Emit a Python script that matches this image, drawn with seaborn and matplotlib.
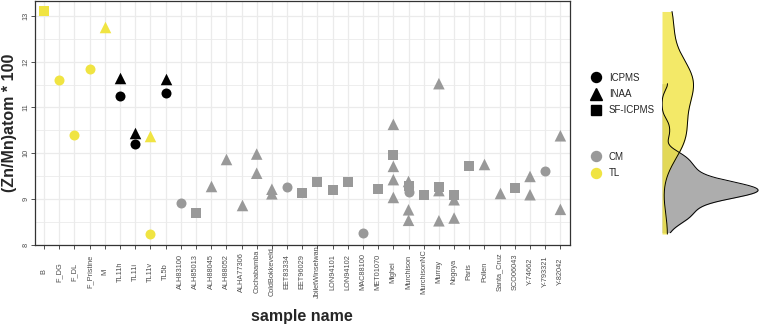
import numpy as np
import pandas as pd
import matplotlib
matplotlib.use("Agg")
import matplotlib.pyplot as plt
from matplotlib.lines import Line2D
import seaborn as sns

# -----------------------------
# Data
# -----------------------------
sample_names = ["B", "F_DG", "F_DL", "F_Pristine", "M", "TL11h", "TL11i", "TL11v", "TL5b",
                "ALH83100", "ALH85013", "ALH88045", "ALH88052", "ALHA77306", "Cochabamba",
                "ColdBokkeveld", "EET83334", "EET96029", "JbiletWinselwan", "LON94101",
                "LON94102", "MAC88100", "MET01070", "Mighei", "Murchison", "MurchisonNC",
                "Murray", "Nogoya", "Paris", "Pollen", "Santa_Cruz", "SCO06043",
                "Y-74662", "Y-793321", "Y-82042"]

pt_sample = ["B", "F_DG", "F_DL", "F_Pristine", "M",
             "TL11h", "TL11h", "TL11i", "TL11i", "TL11v", "TL11v", "TL5b", "TL5b",
             "ALH83100", "ALH85013", "ALH88045", "ALH88052", "ALHA77306",
             "Cochabamba", "Cochabamba", "ColdBokkeveld", "ColdBokkeveld",
             "EET83334", "EET96029", "JbiletWinselwan", "LON94101", "LON94102",
             "MAC88100", "MET01070",
             "Mighei", "Mighei", "Mighei", "Mighei", "Mighei",
             "Murchison", "Murchison", "Murchison", "Murchison", "Murchison",
             "MurchisonNC", "Murray", "Murray", "Murray", "Murray",
             "Nogoya", "Nogoya", "Nogoya", "Paris", "Pollen", "Santa_Cruz", "SCO06043",
             "Y-74662", "Y-74662", "Y-793321", "Y-82042", "Y-82042"]

pt_method = ["SF-ICPMS", "ICPMS", "ICPMS", "ICPMS", "INAA",
             "INAA", "ICPMS", "INAA", "ICPMS", "INAA", "ICPMS", "INAA", "ICPMS",
             "ICPMS", "SF-ICPMS", "INAA", "INAA", "INAA",
             "INAA", "INAA", "INAA", "INAA",
             "ICPMS", "SF-ICPMS", "SF-ICPMS", "SF-ICPMS", "SF-ICPMS",
             "ICPMS", "SF-ICPMS",
             "INAA", "SF-ICPMS", "INAA", "INAA", "INAA",
             "INAA", "SF-ICPMS", "ICPMS", "INAA", "INAA",
             "SF-ICPMS", "INAA", "SF-ICPMS", "INAA", "INAA",
             "SF-ICPMS", "INAA", "INAA", "SF-ICPMS", "INAA", "INAA", "SF-ICPMS",
             "INAA", "INAA", "ICPMS", "INAA", "INAA"]

# colour class: CM grey, TL yellow, TLb = TL samples drawn in black
pt_class = ["TL", "TL", "TL", "TL", "TL",
            "TLb", "TLb", "TLb", "TLb", "TL", "TL", "TLb", "TLb"] + ["CM"] * 43

pt_value = [13.10, 11.59, 10.40, 11.84, 12.75,
            11.65, 11.25, 10.44, 10.20, 10.38, 8.23, 11.63, 11.32,
            8.91, 8.70, 9.29, 9.88, 8.86,
            9.98, 9.56, 9.21, 9.11,
            9.25, 9.13, 9.37, 9.19, 9.36,
            8.26, 9.21,
            10.63, 9.97, 9.71, 9.42, 9.03,
            9.38, 9.28, 9.14, 8.76, 8.53,
            9.09, 11.52, 9.25, 9.18, 8.52,
            9.08, 8.98, 8.58, 9.71, 9.77, 9.13, 9.23,
            9.49, 9.09, 9.60, 10.38, 8.77]

df = pd.DataFrame({"sample": pt_sample, "method": pt_method,
                   "cls": pt_class, "value": pt_value})
df["group"] = df["cls"].replace({"TLb": "TL"})

palette = {"CM": "#999999", "TL": "#F0E442", "TLb": "#000000"}
markers = {"ICPMS": "o", "INAA": "^", "SF-ICPMS": "s"}
msizes = {"ICPMS": 7.2, "INAA": 8.3, "SF-ICPMS": 6.5}

# -----------------------------
# Figure
# -----------------------------
sns.set_theme(style="white")
plt.rcParams["font.family"] = ["Liberation Sans", "DejaVu Sans"]

fig = plt.figure(figsize=(7.6, 3.25), dpi=100)
ax = fig.add_axes([35 / 760, 80 / 325, 534.5 / 760, 244.5 / 325])
ax2 = fig.add_axes([662 / 760, 80 / 325, 98 / 760, 244.5 / 325])

for m in ["ICPMS", "INAA", "SF-ICPMS"]:
    sub = df[df["method"] == m]
    sns.stripplot(data=sub, x="sample", y="value", hue="cls", palette=palette,
                  order=sample_names, jitter=False, dodge=False, marker=markers[m],
                  size=msizes[m], linewidth=0, legend=False, ax=ax, zorder=3)

ax.set_xlim(-0.6, len(sample_names) - 0.4)
ax.set_ylim(7.99, 13.34)
ax.set_yticks([8, 9, 10, 11, 12, 13])
ax.set_yticks(np.arange(8.5, 13.0, 1.0), minor=True)
ax.set_xticks(range(len(sample_names)))
ax.set_xticklabels(sample_names, rotation=90, va="center")
ax.set_yticklabels(["8", "9", "10", "11", "12", "13"], rotation=90, va="center")

ax.grid(True, which="major", color="#EBEBEB", lw=0.9)
ax.grid(True, which="minor", axis="y", color="#EBEBEB", lw=0.6)
ax.set_axisbelow(True)
for s in ax.spines.values():
    s.set_color("#333333")
    s.set_linewidth(0.9)

ax.tick_params(axis="both", which="major", bottom=True, left=True, length=2.75,
               width=0.6, color="#333333", labelsize=5.3, labelcolor="#4D4D4D")
ax.tick_params(axis="x", pad=16.5)
ax.tick_params(axis="y", pad=1)
ax.tick_params(which="minor", left=False, bottom=False)

ax.set_xlabel("sample name", fontsize=11.5, fontweight="bold")
ax.xaxis.set_label_coords(0.5, -(308 - 244.5) / 244.5)
ax.set_ylabel("(Zn/Mn)atom * 100", fontsize=11.5, fontweight="bold", labelpad=4)

# -----------------------------
# Marginal density
# -----------------------------
dens_fill = {"CM": "#999999", "TL": "#F0E442"}
for g in ["CM", "TL"]:
    vals = df.loc[df["group"] == g, "value"].to_numpy()
    sd = vals.std(ddof=1)
    iqr = np.subtract(*np.percentile(vals, [75, 25]))
    bw = 0.9 * min(sd, iqr / 1.34) * len(vals) ** -0.2   # R's bw.nrd0
    sns.kdeplot(y=vals, ax=ax2, fill=True, color=dens_fill[g], alpha=0.8,
                linewidth=0, cut=0, bw_method=bw / sd)
    sns.kdeplot(y=vals, ax=ax2, color="black", linewidth=0.7, cut=0, bw_method=bw / sd)

ax2.set_ylim(7.99, 13.34)
ax2.margins(x=0.02)
ax2.set_xlim(0, ax2.get_xlim()[1])
ax2.axis("off")

# -----------------------------
# Legends
# -----------------------------
shape_handles = [Line2D([], [], marker=markers[m], color="black", linestyle="",
                        markersize=msizes[m]) for m in ["ICPMS", "INAA", "SF-ICPMS"]]
leg1 = fig.legend(shape_handles, ["ICPMS", "INAA", "SF-ICPMS"], loc="center left",
                  bbox_to_anchor=(591 / 760, 1 - 94 / 325), frameon=False, fontsize=7,
                  handlelength=1.0, handletextpad=0.85, labelspacing=0.65,
                  borderpad=0, borderaxespad=0)
colour_handles = [Line2D([], [], marker="o", color=palette[c], linestyle="",
                         markersize=7.2) for c in ["CM", "TL"]]
leg2 = fig.legend(colour_handles, ["CM", "TL"], loc="center left",
                  bbox_to_anchor=(591 / 760, 1 - 165 / 325), frameon=False, fontsize=7,
                  handlelength=1.0, handletextpad=0.85, labelspacing=0.65,
                  borderpad=0, borderaxespad=0)

fig.savefig("out.png", dpi=100)
